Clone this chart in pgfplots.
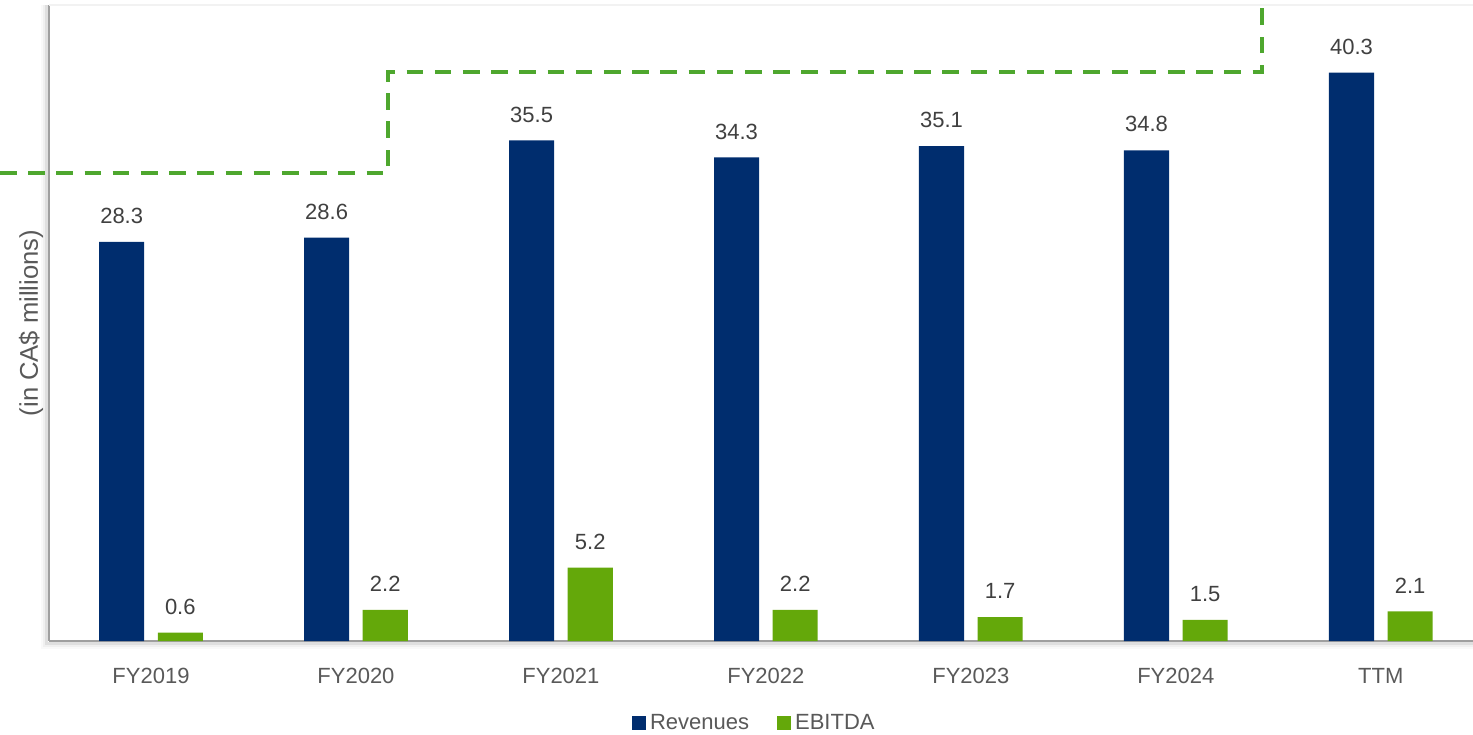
\documentclass[border=0pt]{standalone}
\usepackage{fontspec}
\setmainfont{Liberation Sans}
\usepackage{pgfplots}
\pgfplotsset{compat=1.18}
\definecolor{revblue}{RGB}{0,45,110}
\definecolor{ebgreen}{RGB}{100,168,10}
\definecolor{dashgreen}{RGB}{78,167,46}
\definecolor{lblgrey}{RGB}{64,64,64}
\definecolor{tickgrey}{RGB}{89,89,89}
\begin{document}
\begin{tikzpicture}
\begin{axis}[
  scale only axis,
  width=712pt, height=318pt,
  xmin=-0.4976, xmax=6.45,
  ymin=0, ymax=45.1,
  clip=false,
  axis x line*=bottom, axis y line*=left,
  axis line style={draw=gray!75, line width=1.2pt, -},
  xtick={0,1,2,3,4,5,6},
  xticklabels={FY2019,FY2020,FY2021,FY2022,FY2023,FY2024,TTM},
  xtick style={draw=none},
  ytick=\empty,
  xticklabel style={font=\fontsize{11}{13}\selectfont, text=tickgrey, yshift=-6pt},
  ylabel={(in CA\$ millions)},
  ylabel style={font=\fontsize{12.8}{15}\selectfont, text=tickgrey, at={(axis description cs:0,0.5)}, anchor=center, yshift=9pt},
  ybar, bar width=0.22,
  nodes near coords,
  nodes near coords style={font=\fontsize{11}{13}\selectfont, text=lblgrey, anchor=south, yshift=5.5pt},
  point meta=explicit symbolic,
  legend columns=2,
  legend style={draw=none, font=\fontsize{11}{13}\selectfont, text=tickgrey,
    at={(axis description cs:0.496,-0.129)}, anchor=center,
    /tikz/every even column/.append style={column sep=12pt}},
  legend image code/.code={\fill[#1] (0.5pt,-3.5pt) rectangle (7.5pt,3.5pt);},
]
% shadow of the axis lines
\draw[gray, opacity=0.25, line width=1.2pt] ([xshift=-1.2pt]axis cs:-0.4976,45.1) -- ([xshift=-1.2pt,yshift=-1.2pt]axis cs:-0.4976,0) -- ([yshift=-1.2pt]axis cs:6.45,0);
\draw[gray, opacity=0.12, line width=1.2pt] ([xshift=-2.4pt]axis cs:-0.4976,45.1) -- ([xshift=-2.4pt,yshift=-2.4pt]axis cs:-0.4976,0) -- ([yshift=-2.4pt]axis cs:6.45,0);
\draw[gray, opacity=0.05, line width=1.2pt] ([xshift=-3.6pt]axis cs:-0.4976,45.1) -- ([xshift=-3.6pt,yshift=-3.6pt]axis cs:-0.4976,0) -- ([yshift=-3.6pt]axis cs:6.45,0);
\addplot[fill=revblue, draw=none, bar shift=-0.143] coordinates {
  (0,28.3) [28.3] (1,28.6) [28.6] (2,35.5) [35.5] (3,34.3) [34.3] (4,35.1) [35.1] (5,34.8) [34.8] (6,40.3) [40.3]};
\addlegendentry{Revenues}
\addplot[fill=ebgreen, draw=none, bar shift=0.143] coordinates {
  (0,0.6) [0.6] (1,2.2) [2.2] (2,5.2) [5.2] (3,2.2) [2.2] (4,1.7) [1.7] (5,1.5) [1.5] (6,2.1) [2.1]};
\addlegendentry{EBITDA}
\addplot[forget plot, sharp plot, draw=dashgreen, line width=1.7pt, dash pattern=on 8.3pt off 5.8pt, nodes near coords={}, mark=none] coordinates {
  (-0.737,33.19) (1.156,33.19) (1.156,40.35) (5.42,40.35) (5.42,46.5)};
\draw[gray!10, line width=0.8pt] (axis cs:-0.4976,45.1) -- (axis cs:6.45,45.1);
\end{axis}
\pgfresetboundingbox
\path ([xshift=-24.5pt,yshift=-46.5pt]current axis.south west) rectangle ([yshift=2.5pt]current axis.north east);
\end{tikzpicture}
\end{document}
